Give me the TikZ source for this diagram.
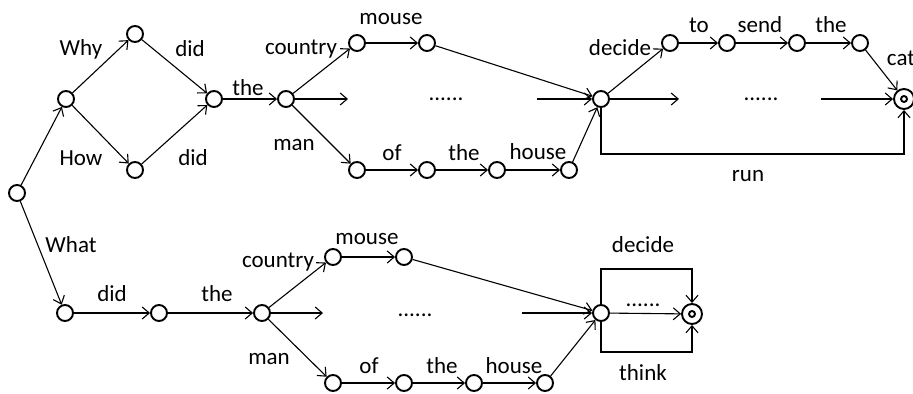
\documentclass[tikz,border=0pt]{standalone}
\usepackage{fontspec}
\setmainfont{Carlito}
\usetikzlibrary{arrows.meta}

\begin{document}
\begin{tikzpicture}[x=0.5pt,y=-0.5pt,
  font=\fontsize{11.5}{13}\selectfont,
  st/.style={circle,draw,line width=0.95pt,minimum size=8pt,inner sep=0pt},
  fin/.style={circle,draw,line width=0.95pt,minimum size=10pt,inner sep=0pt,
    path picture={\draw[line width=0.95pt] (path picture bounding box.center) circle (1.5pt);}},
  ar/.style={line width=0.55pt,-{Straight Barb[length=3.5pt,width=6pt]}},
  ln/.style={line width=0.55pt},
  lab/.style={inner sep=0pt}]
  \useasboundingbox (0,0) rectangle (913,394);
  \node (s) at (17, 193)[st]{};
         \node (a) at (66, 99)[st]{};
         \node (b) at (135, 34)[st]{};
         \node (c) at (135, 170)[st]{};
         \node (d) at (214, 99)[st]{};
         \node (e) at (286, 99)[st]{};
         \node (f) at (357, 43)[st]{};
         \node (g) at (427, 43)[st]{};
         \node (h) at (357, 170)[st]{};
         \node (i) at (427, 170)[st]{};
         \node (j) at (497, 170)[st]{};
         \node (k) at (569, 170)[st]{};
         \node (l) at (601, 99)[st]{};
         \node (m) at (670, 43)[st]{};
         \node (n) at (727, 43)[st]{};
         \node (o) at (797, 43)[st]{};
         \node (p) at (860, 43)[st]{};
         \node (q) at (904, 99)[fin]{};
         \coordinate (e1) at (348, 99);
         \coordinate (e2) at (537, 99);
         \coordinate (l1) at (679, 99);
         \coordinate (l2) at (821, 99);
         \coordinate (rn) at (904, 154);
         \draw [ar] (s) -- (a);
         \draw [ar] (a) -- (b);
         \draw [ar] (a) -- (c);
         \draw [ar] (b) -- (d);
         \draw [ar] (c) -- (d);
         \draw [ar] (d) -- (e);
         \draw [ar] (e) -- (f);
         \draw [ar] (e) -- (e1);
         \draw [ar] (e) -- (h);
         \draw [ar] (f) -- (g);
         \draw [ar] (g) -- (l);
         \draw [ar] (e2) -- (l);
         \draw [ar] (h) -- (i);
         \draw [ar] (i) -- (j);
         \draw [ar] (j) -- (k);
         \draw [ar] (k) -- (l);
         \draw [ar] (l) -- (m);
         \draw [ar] (m) -- (n);
         \draw [ar] (n) -- (o);
         \draw [ar] (o) -- (p);
         \draw [ar] (p) -- (q);
         \draw [ar] (l) -- (l1);
         \draw [ar] (l2) -- (q);
         \draw [ar] (l.south) |- (rn) -- (q.south);
         \node (t1) at (81, 49)[lab]{Why};
         \node (t2) at (190, 49)[lab]{did};
         \node (t3) at (81, 158)[lab]{How};
         \node (t4) at (193, 158)[lab]{did};
         \node (t5) at (248, 88)[lab]{the};
         \node (t6) at (301, 49)[lab]{country};
         \node (t7) at (294, 145)[lab]{man};
         \node (t8) at (391, 19)[lab]{mouse};
         \node (t9) at (446, 99)[lab]{......};
         \node (t10) at (392, 153)[lab]{of};
         \node (t11) at (464, 153)[lab]{the};
         \node (t12) at (538, 152)[lab]{house};
         \node (t13) at (620, 48)[lab]{decide};
         \node (t14) at (699, 25)[lab]{to};
         \node (t15) at (760, 25)[lab]{send};
         \node (t16) at (831, 25)[lab]{the};
         \node (t17) at (901, 58)[lab]{cat};
         \node (t18) at (761, 99)[lab]{......};
         \node (t19) at (748, 176)[lab]{run};
  \node (r) at (65, 313)[st]{};
         \node (r1) at (159, 313)[st]{};
         \node (r2) at (262, 313)[st]{};
         \node (u) at (333, 257)[st]{};
         \node (v) at (404, 257)[st]{};
         \node (w) at (333, 383)[st]{};
         \node (x) at (404, 383)[st]{};
         \node (y) at (474, 383)[st]{};
         \node (z) at (545, 383)[st]{};
         \node (aa) at (601, 313)[st]{};
         \node (bb) at (692, 314)[fin]{};
         \coordinate (r3) at (323, 313);
         \coordinate (r4) at (522, 313);
         \coordinate (dc) at (692, 269);
         \coordinate (th) at (692, 352);
         \draw [ar] (s) -- (r);
         \draw [ar] (r) -- (r1);
         \draw [ar] (r1) -- (r2);
         \draw [ar] (r2) -- (u);
         \draw [ar] (r2) -- (r3);
         \draw [ar] (r2) -- (w);
         \draw [ar] (u) -- (v);
         \draw [ar] (v) -- (aa);
         \draw [ar] (r4) -- (aa);
         \draw [ar] (w) -- (x);
         \draw [ar] (x) -- (y);
         \draw [ar] (y) -- (z);
         \draw [ar] (z) -- (aa);
         \draw [ar] (aa) -- (bb);
         \draw [ar] (aa.north) |- (dc) -- (bb.north);
         \draw [ar] (aa.south) |- (th) -- (bb.south);
         \node (b1) at (71, 245)[lab]{What};
         \node (b2) at (112, 294)[lab]{did};
         \node (b3) at (217, 294)[lab]{the};
         \node (b4) at (278, 262)[lab]{country};
         \node (b5) at (269, 359)[lab]{man};
         \node (b6) at (367, 239)[lab]{mouse};
         \node (b7) at (415, 315)[lab]{......};
         \node (b8) at (369, 366)[lab]{of};
         \node (b9) at (442, 366)[lab]{the};
         \node (b10) at (514, 366)[lab]{house};
         \node (b11) at (643, 245)[lab]{decide};
         \node (b12) at (643, 305)[lab]{......};
         \node (b13) at (643, 373)[lab]{think};
    \end{tikzpicture}
\end{document}
